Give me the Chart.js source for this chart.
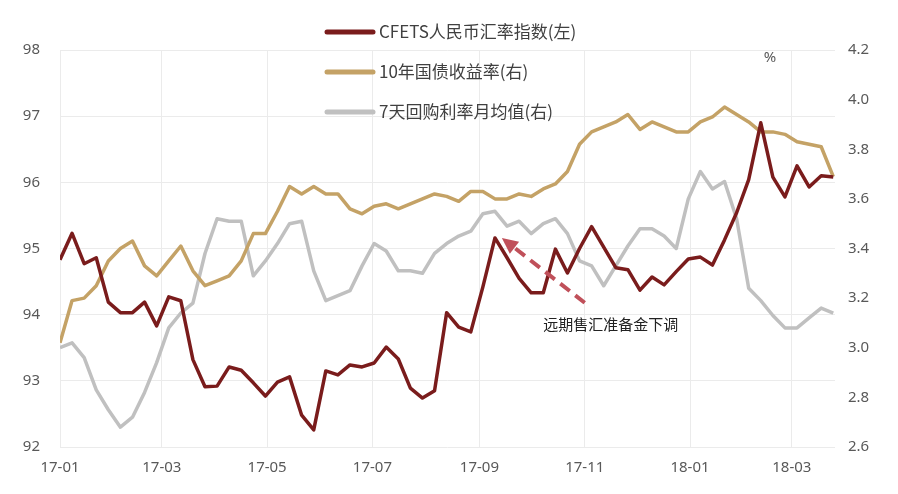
<!DOCTYPE html>
<html>
<head>
<meta charset="utf-8">
<script src="https://cdn.jsdelivr.net/npm/chart.js@4.4.1/dist/chart.umd.min.js"></script>
<style>
  body { margin: 0; background: #fff; }
  #wrap { width: 898px; height: 494px; }
</style>
</head>
<body>
<div id="wrap"><canvas id="chart" width="898" height="494"></canvas></div>
<script>
// weekly observations, first one on 2017-01-01
const cfets = [
  94.83, 95.23, 94.77, 94.86, 94.19, 94.03, 94.03, 94.19, 93.83, 94.27,
  94.21, 93.32, 92.91, 92.92, 93.21, 93.16, 92.97, 92.77, 92.98, 93.06,
  92.48, 92.26, 93.15, 93.09, 93.24, 93.21, 93.27, 93.51, 93.33, 92.89,
  92.74, 92.85, 94.03, 93.81, 93.74, 94.42, 95.16, 94.86, 94.55, 94.33,
  94.33, 94.99, 94.63, 95.00, 95.33, 95.02, 94.71, 94.68, 94.37, 94.57,
  94.45, 94.65, 94.84, 94.87, 94.75, 95.13, 95.54, 96.04, 96.90, 96.08,
  95.78, 96.25, 95.93, 96.10, 96.08
];
const bond10y = [
  3.02, 3.19, 3.20, 3.25, 3.35, 3.40, 3.43, 3.33, 3.29, 3.35,
  3.41, 3.31, 3.25, 3.27, 3.29, 3.35, 3.46, 3.46, 3.55, 3.65,
  3.62, 3.65, 3.62, 3.62, 3.56, 3.54, 3.57, 3.58, 3.56, 3.58,
  3.60, 3.62, 3.61, 3.59, 3.63, 3.63, 3.60, 3.60, 3.62, 3.61,
  3.64, 3.66, 3.71, 3.82, 3.87, 3.89, 3.91, 3.94, 3.88, 3.91,
  3.89, 3.87, 3.87, 3.91, 3.93, 3.97, 3.94, 3.91, 3.87, 3.87,
  3.86, 3.83, 3.82, 3.81, 3.69
];
const repo7d = [
  3.00, 3.02, 2.96, 2.83, 2.75, 2.68, 2.72, 2.82, 2.94, 3.08,
  3.14, 3.18, 3.38, 3.52, 3.51, 3.51, 3.29, 3.35, 3.42, 3.50,
  3.51, 3.31, 3.19, 3.21, 3.23, 3.33, 3.42, 3.39, 3.31, 3.31,
  3.30, 3.38, 3.42, 3.45, 3.47, 3.54, 3.55, 3.49, 3.51, 3.46,
  3.50, 3.52, 3.46, 3.35, 3.33, 3.25, 3.33, 3.41, 3.48, 3.48,
  3.45, 3.40, 3.60, 3.71, 3.64, 3.67, 3.52, 3.24, 3.19, 3.13,
  3.08, 3.08, 3.12, 3.16, 3.14
];
const seriesNames = ['CFETS人民币汇率指数(左)', '10年国债收益率(右)', '7天回购利率月均值(右)'];

// x axis: days since 2017-01-01
const tickDays = [0, 59, 120, 181, 243, 304, 365, 424];
const tickLabels = ['17-01', '17-03', '17-05', '17-07', '17-09', '17-11', '18-01', '18-03'];

const noteText = '远期售汇准备金下调';

const days = cfets.map((v, i) => i * 7);
const toPoints = arr => arr.map((v, i) => ({ x: days[i], y: v }));

const fontFamily = '"Noto Sans", "Noto Sans CJK SC", sans-serif';
const cjkFont = '"Noto Sans CJK SC", "Noto Sans", sans-serif';
const tickColor = '#595959';
const gridColor = '#ebebeb';

// legend drawn by hand so it can sit on top of the plot like the original
const legendPlugin = {
  id: 'topLegend',
  afterDraw(chart) {
    const ctx = chart.ctx;
    ctx.save();
    chart.data.datasets.forEach((ds, i) => {
      const y = 32 + i * 40;
      ctx.strokeStyle = ds.borderColor;
      ctx.lineWidth = 5;
      ctx.lineCap = 'round';
      ctx.beginPath();
      ctx.moveTo(327, y);
      ctx.lineTo(373, y);
      ctx.stroke();
      ctx.fillStyle = '#404040';
      ctx.font = '17px ' + cjkFont;
      ctx.textBaseline = 'middle';
      ctx.fillText(ds.label, 379, y);
    });
    // unit of the right axis
    ctx.fillStyle = tickColor;
    ctx.font = '15px ' + fontFamily;
    ctx.textAlign = 'center';
    ctx.fillText('%', 770, 58);
    ctx.restore();
  }
};

const notePlugin = {
  id: 'note',
  afterDatasetsDraw(chart) {
    const x = chart.scales.x, yl = chart.scales.yL;
    const tipX = x.getPixelForValue(256), tipY = yl.getPixelForValue(95.16);
    const tailX = x.getPixelForValue(304), tailY = yl.getPixelForValue(94.18);
    const dx = tailX - tipX, dy = tailY - tipY;
    const len = Math.hypot(dx, dy);
    const ux = dx / len, uy = dy / len;
    const headLen = 16, headW = 7.5;
    const bx = tipX + ux * headLen, by = tipY + uy * headLen;
    const ctx = chart.ctx;
    ctx.save();
    ctx.strokeStyle = '#c0505a';
    ctx.fillStyle = '#c0505a';
    ctx.lineWidth = 4;
    ctx.setLineDash([12, 7]);
    ctx.beginPath();
    ctx.moveTo(tailX, tailY);
    ctx.lineTo(bx, by);
    ctx.stroke();
    ctx.setLineDash([]);
    ctx.beginPath();
    ctx.moveTo(tipX, tipY);
    ctx.lineTo(bx - uy * headW, by + ux * headW);
    ctx.lineTo(bx + uy * headW, by - ux * headW);
    ctx.closePath();
    ctx.fill();

    ctx.fillStyle = '#222';
    ctx.font = '15px ' + cjkFont;
    ctx.textBaseline = 'middle';
    ctx.fillText(noteText, x.getPixelForValue(280), yl.getPixelForValue(93.86));
    ctx.restore();
  }
};

new Chart(document.getElementById('chart'), {
  type: 'line',
  data: {
    datasets: [
      { label: seriesNames[0], data: toPoints(cfets), yAxisID: 'yL', borderColor: '#7a1c1c' },
      { label: seriesNames[1], data: toPoints(bond10y), yAxisID: 'yR', borderColor: '#c4a266' },
      { label: seriesNames[2], data: toPoints(repo7d), yAxisID: 'yR', borderColor: '#c0c0c0' }
    ]
  },
  options: {
    responsive: false,
    animation: false,
    layout: { padding: { top: 50, left: 0, right: 0, bottom: 0 } },
    elements: {
      line: { borderWidth: 3.5, tension: 0, borderJoinStyle: 'round' },
      point: { radius: 0 }
    },
    plugins: {
      legend: { display: false },
      tooltip: { enabled: false }
    },
    scales: {
      x: {
        type: 'linear',
        min: 0,
        max: 449,
        afterBuildTicks: s => { s.ticks = tickDays.map(v => ({ value: v })); },
        afterFit: s => { s.height = 47; },
        ticks: {
          color: tickColor,
          font: { size: 15, family: fontFamily },
          padding: 12,
          maxRotation: 0,
          autoSkip: false,
          callback: v => tickLabels[tickDays.indexOf(v)]
        },
        grid: { color: gridColor, drawTicks: false },
        border: { display: false }
      },
      yL: {
        position: 'left',
        min: 92,
        max: 98,
        afterFit: s => { s.width = 60; },
        ticks: {
          stepSize: 1,
          color: tickColor,
          font: { size: 15, family: fontFamily },
          padding: 20
        },
        grid: { color: gridColor, drawTicks: false },
        border: { display: false }
      },
      yR: {
        position: 'right',
        min: 2.6,
        max: 4.2,
        afterFit: s => { s.width = 63; },
        ticks: {
          stepSize: 0.2,
          color: tickColor,
          font: { size: 15, family: fontFamily },
          padding: 13,
          callback: v => v.toFixed(1)
        },
        grid: { display: false, drawTicks: false },
        border: { display: false }
      }
    }
  },
  plugins: [legendPlugin, notePlugin]
});
</script>
</body>
</html>
